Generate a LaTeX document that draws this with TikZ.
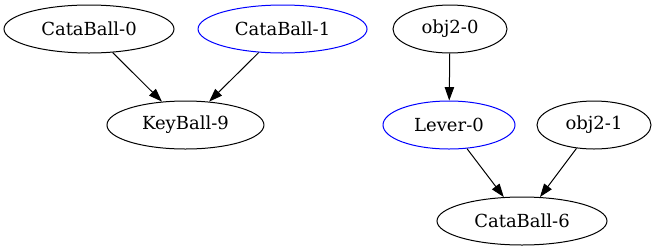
\documentclass[tikz,border=0pt]{standalone}
\usepackage{fontspec}
\setmainfont{DejaVu Serif}
\usepackage{tikz}
\usetikzlibrary{shapes.geometric,arrows.meta}
\definecolor{ballLine}{RGB}{0,0,0}
\definecolor{ballPick}{RGB}{0,0,255}
\tikzset{
  ballnode/.style={ellipse, draw=ballLine, line width=0.75pt, minimum height=36pt,
    inner sep=0pt, font=\fontsize{13.5}{16}\selectfont},
  pickednode/.style={ballnode, draw=ballPick},
  linkarrow/.style={-{Triangle[length=10pt,width=7pt]}, draw=ballLine, line width=0.75pt},
}

\begin{document}
\begin{tikzpicture}
  \useasboundingbox (0,0) rectangle (492.75pt,-188.25pt);

  % first group
  \node[ballnode, minimum width=127.5pt] (cb0) at (66.75pt,-21.75pt) {CataBall-0};
  \node[pickednode, minimum width=126.75pt] (cb1) at (211.9pt,-21.75pt) {CataBall-1};
  \node[ballnode, minimum width=117.75pt] (kb9) at (139.1pt,-93.75pt) {KeyBall-9};

  % second group
  \node[ballnode, minimum width=85.5pt] (ob0) at (337.5pt,-21.75pt) {obj2-0};
  \node[pickednode, minimum width=99pt] (lv0) at (336.75pt,-93.75pt) {Lever-0};
  \node[ballnode, minimum width=85.5pt] (ob1) at (445.5pt,-93.75pt) {obj2-1};
  \node[ballnode, minimum width=127.5pt] (cb6) at (391.5pt,-165.75pt) {CataBall-6};

  \draw[linkarrow] (cb0) -- (kb9);
  \draw[linkarrow] (cb1) -- (kb9);
  \draw[linkarrow] (ob0) -- (lv0);
  \draw[linkarrow] (lv0) -- (cb6);
  \draw[linkarrow] (ob1) -- (cb6);
\end{tikzpicture}
\end{document}
